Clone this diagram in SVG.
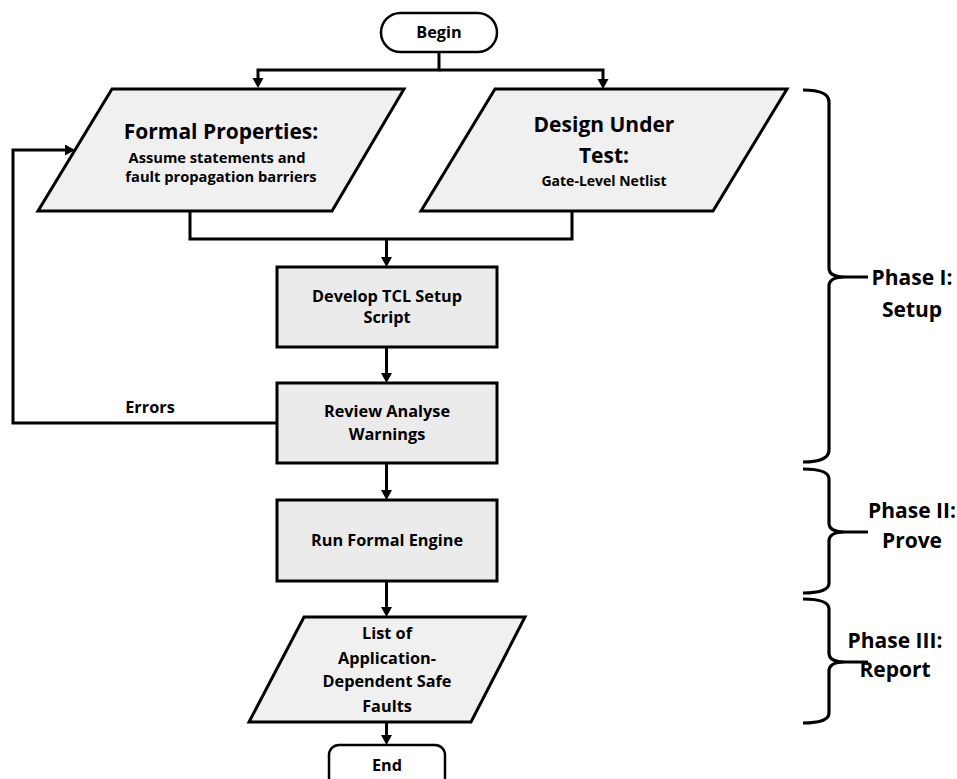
<svg xmlns="http://www.w3.org/2000/svg" width="957" height="779" viewBox="0 0 957 779">
<style>
  .term { fill: #ffffff; stroke: #000; stroke-width: 2.5; }
  .io { fill: #f0f0f0; stroke: #000; stroke-width: 3; stroke-linejoin: miter; }
  .proc { fill: #ebebeb; stroke: #000; stroke-width: 3; }
  .conn { fill: none; stroke: #000; stroke-width: 3; }
  .brace { fill: none; stroke: #000; stroke-width: 3.2; stroke-linejoin: round; }
  text { font-family: "Open Sans", "Liberation Sans", sans-serif; font-weight: bold; fill: #000; text-anchor: middle; }
  .h { font-size: 21px; }
  .b { font-size: 16.3px; }
  .s { font-size: 14.7px; }
  .g { font-size: 14px; }
  .ph { font-size: 21px; }
</style>
<defs>
  <marker id="arr" markerUnits="userSpaceOnUse" markerWidth="12" markerHeight="12" refX="5" refY="5.5" orient="auto">
    <path d="M0,0 L10,5.5 L0,11 z" fill="#000"/>
  </marker>
</defs>

<g id="connectors">
  <path class="conn" d="M439,52 V70 H258 V83" marker-end="url(#arr)"/>
  <path class="conn" d="M439,70 H603 V84" marker-end="url(#arr)"/>
  <path class="conn" d="M190,211 V239 H572 V211"/>
  <path class="conn" d="M386.5,239 V262" marker-end="url(#arr)"/>
  <path class="conn" d="M386.5,347 V378" marker-end="url(#arr)"/>
  <path class="conn" d="M386.5,463 V495" marker-end="url(#arr)"/>
  <path class="conn" d="M386.5,581 V612" marker-end="url(#arr)"/>
  <path class="conn" d="M386.5,722 V740" marker-end="url(#arr)"/>
  <path class="conn" d="M277,423 H13 V150 H70" marker-end="url(#arr)"/>
  <text class="b" x="150" y="413">Errors</text>
</g>

<g id="begin">
  <rect class="term" x="381" y="13" width="116" height="39" rx="19.5" ry="19.5"/>
  <text class="b" x="439" y="38">Begin</text>
</g>

<g id="formal-properties">
  <polygon class="io" points="112,89 404,89 332,211 38,211"/>
  <text class="h" x="221" y="139">Formal Properties:</text>
  <text class="s" x="217" y="163">Assume statements and</text>
  <text class="s" x="221" y="182">fault propagation barriers</text>
</g>

<g id="design-under-test">
  <polygon class="io" points="495,89 787,89 713,211 421,211"/>
  <text class="h" x="604" y="132">Design Under</text>
  <text class="h" x="604" y="163">Test:</text>
  <text class="g" x="604" y="186">Gate-Level Netlist</text>
</g>

<g id="develop-tcl">
  <rect class="proc" x="277" y="267" width="220" height="80"/>
  <text class="b" x="387" y="302">Develop TCL Setup</text>
  <text class="b" x="387" y="323">Script</text>
</g>

<g id="review">
  <rect class="proc" x="277" y="383" width="220" height="80"/>
  <text class="b" x="387" y="417">Review Analyse</text>
  <text class="b" x="387" y="440">Warnings</text>
</g>

<g id="run-formal">
  <rect class="proc" x="277" y="500" width="220" height="81"/>
  <text class="b" x="387" y="546">Run Formal Engine</text>
</g>

<g id="safe-faults">
  <polygon class="io" points="304,617 525,617 471,722 249,722"/>
  <text class="b" x="387" y="639">List of</text>
  <text class="b" x="387" y="664">Application-</text>
  <text class="b" x="387" y="687">Dependent Safe</text>
  <text class="b" x="387" y="712">Faults</text>
</g>

<g id="end">
  <rect class="term" x="329" y="745" width="116" height="45" rx="10" ry="10"/>
  <text class="b" x="387" y="771">End</text>
</g>

<g id="phase-1">
  <path class="brace" d="M803,90 Q829,90 829,102 L829,268 Q829,277 845,277 L868,277 M845,277 Q829,277 829,286 L829,450 Q829,462 803,462"/>
  <text class="ph" x="912" y="285">Phase I:</text>
  <text class="ph" x="912" y="317">Setup</text>
</g>

<g id="phase-2">
  <path class="brace" d="M803,469 Q829,469 829,479 L829,523 Q829,532 845,532 L868,532 M845,532 Q829,532 829,541 L829,583 Q829,593 803,593"/>
  <text class="ph" x="912" y="518">Phase II:</text>
  <text class="ph" x="912" y="548">Prove</text>
</g>

<g id="phase-3">
  <path class="brace" d="M803,599 Q829,599 829,609 L829,653 Q829,662 845,662 L868,662 M845,662 Q829,662 829,671 L829,713 Q829,723 803,723"/>
  <text class="ph" x="895" y="648">Phase III:</text>
  <text class="ph" x="895" y="677">Report</text>
</g>
</svg>
